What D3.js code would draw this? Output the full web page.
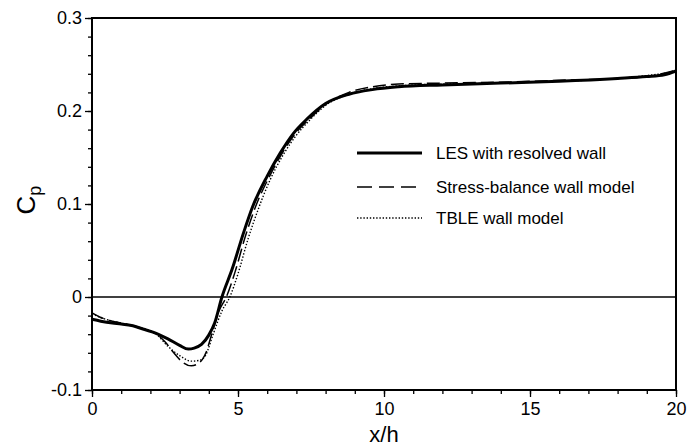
<!DOCTYPE html>
<html>
<head>
<meta charset="utf-8">
<script src="https://cdn.jsdelivr.net/npm/d3@7"></script>
<style>
  body { margin: 0; background: #fff; }
  svg { display: block; font-family: "Liberation Sans", Arial, Helvetica, sans-serif; }
</style>
</head>
<body>
<div id="chart"></div>
<script>
// x/h positions and Cp values
const lesX   = [0, 0.3, 0.7, 1.0, 1.4, 1.8, 2.2, 2.6, 3.0, 3.3, 3.5, 3.75, 4.0, 4.2, 4.45, 4.8, 5.2, 5.5, 6.0, 6.45, 6.9, 7.35, 8.0, 8.8, 9.6, 10.5, 12, 14, 16, 18, 19, 19.6, 20];
const lesCp  = [-0.024, -0.026, -0.028, -0.029, -0.031, -0.035, -0.039, -0.045, -0.052, -0.056, -0.055, -0.051, -0.041, -0.028, 0.0, 0.030, 0.070, 0.097, 0.130, 0.155, 0.176, 0.191, 0.208, 0.218, 0.223, 0.226, 0.228, 0.230, 0.232, 0.235, 0.237, 0.239, 0.243];

const sbX    = [0, 0.3, 0.7, 1.0, 1.4, 1.8, 2.2, 2.5, 2.8, 3.1, 3.4, 3.7, 3.9, 4.1, 4.35, 4.6, 4.9, 5.25, 5.6, 6.05, 6.5, 6.95, 7.4, 8.0, 8.8, 9.6, 10.5, 12, 14, 16, 18, 19, 20];
const sbCp   = [-0.017, -0.022, -0.026, -0.028, -0.031, -0.035, -0.040, -0.048, -0.060, -0.070, -0.074, -0.070, -0.060, -0.040, -0.015, 0.0, 0.027, 0.065, 0.097, 0.128, 0.154, 0.175, 0.190, 0.207, 0.220, 0.226, 0.229, 0.230, 0.231, 0.233, 0.235, 0.237, 0.244];

const tbleX  = [0, 0.3, 0.7, 1.0, 1.4, 1.8, 2.2, 2.6, 3.0, 3.4, 3.7, 3.9, 4.15, 4.45, 4.72, 5.0, 5.35, 5.7, 6.1, 6.55, 7.0, 7.45, 8.0, 8.8, 9.6, 10.5, 12, 14, 16, 18, 20];
const tbleCp = [-0.018, -0.022, -0.026, -0.028, -0.031, -0.034, -0.040, -0.053, -0.063, -0.069, -0.068, -0.062, -0.040, -0.015, 0.0, 0.025, 0.063, 0.095, 0.126, 0.153, 0.174, 0.190, 0.206, 0.218, 0.224, 0.227, 0.229, 0.230, 0.232, 0.235, 0.242];

const seriesNames = ['LES with resolved wall', 'Stress-balance wall model', 'TBLE wall model'];
const xTicks = [0, 5, 10, 15, 20];
const yTicks = [-0.1, 0, 0.1, 0.2, 0.3];
const yTickLabels = ['-0.1', '0', '0.1', '0.2', '0.3'];

const width = 687, height = 446;
const margin = { top: 18, right: 11, bottom: 56, left: 92 };
const w = width - margin.left - margin.right;
const h = height - margin.top - margin.bottom;

const svg = d3.select('#chart').append('svg')
    .attr('width', width)
    .attr('height', height);

const chart = svg.append('g')
    .attr('transform', `translate(${margin.left},${margin.top})`);

const x = d3.scaleLinear().domain([0, 20]).range([0, w]);
const y = d3.scaleLinear().domain([-0.1, 0.3]).range([h, 0]);

// minor ticks first
chart.append('g')
    .attr('transform', `translate(0,${h})`)
    .call(d3.axisBottom(x).tickValues(d3.range(0, 21, 1)).tickSize(4).tickSizeOuter(0).tickFormat(''))
    .call(g => g.select('.domain').remove());
chart.append('g')
    .call(d3.axisLeft(y).tickValues(d3.range(-0.1, 0.3001, 0.02)).tickSize(4).tickSizeOuter(0).tickFormat(''))
    .call(g => g.select('.domain').remove());

// major ticks + labels
const xAxis = chart.append('g')
    .attr('transform', `translate(0,${h})`)
    .call(d3.axisBottom(x).tickValues(xTicks).tickSize(7).tickPadding(5).tickSizeOuter(0).tickFormat(d3.format('d')));
const yAxis = chart.append('g')
    .call(d3.axisLeft(y).tickValues(yTicks).tickSize(7).tickPadding(3).tickSizeOuter(0)
        .tickFormat((d, i) => yTickLabels[i]));

[xAxis, yAxis].forEach(g => {
    g.selectAll('.domain').remove();
    g.selectAll('text').attr('fill', '#000').style('font-size', '18px');
});
chart.selectAll('.tick line').attr('stroke', '#000').attr('stroke-width', 1.3);

// frame
chart.append('rect')
    .attr('x', 0).attr('y', 0)
    .attr('width', w).attr('height', h)
    .attr('fill', 'none')
    .attr('stroke', '#000')
    .attr('stroke-width', 2);

// zero line
chart.append('line')
    .attr('x1', 0).attr('x2', w)
    .attr('y1', y(0)).attr('y2', y(0))
    .attr('stroke', '#000')
    .attr('stroke-width', 1.6);

const line = d3.line()
    .x(d => x(d[0]))
    .y(d => y(d[1]))
    .curve(d3.curveMonotoneX);

const styles = [
    { width: 3, dash: null },
    { width: 1.5, dash: '13,5' },
    { width: 1.4, dash: '1.4,1.8' }
];
const series = [
    d3.zip(lesX, lesCp),
    d3.zip(sbX, sbCp),
    d3.zip(tbleX, tbleCp)
];

series.forEach((s, i) => {
    chart.append('path')
        .datum(s)
        .attr('fill', 'none')
        .attr('stroke', '#000')
        .attr('stroke-width', styles[i].width)
        .attr('stroke-dasharray', styles[i].dash)
        .attr('d', line);
});

// legend
const legend = svg.append('g');
const rowY = [153, 187, 218];
seriesNames.forEach((name, i) => {
    legend.append('line')
        .attr('x1', 357).attr('x2', 422)
        .attr('y1', rowY[i]).attr('y2', rowY[i])
        .attr('stroke', '#000')
        .attr('stroke-width', styles[i].width)
        .attr('stroke-dasharray', i === 1 ? '15,7' : styles[i].dash);
    legend.append('text')
        .attr('x', 436)
        .attr('y', rowY[i] + 6)
        .style('font-size', '17px')
        .text(name);
});

// axis titles
svg.append('text')
    .attr('x', margin.left + w / 2)
    .attr('y', 442)
    .attr('text-anchor', 'middle')
    .style('font-size', '22px')
    .text('x/h');

const yl = svg.append('text')
    .attr('transform', `translate(35,200) rotate(-90)`)
    .attr('text-anchor', 'middle')
    .style('font-size', '26px');
yl.append('tspan').text('C');
yl.append('tspan').attr('dy', 6).style('font-size', '18px').text('p');
</script>
</body>
</html>
